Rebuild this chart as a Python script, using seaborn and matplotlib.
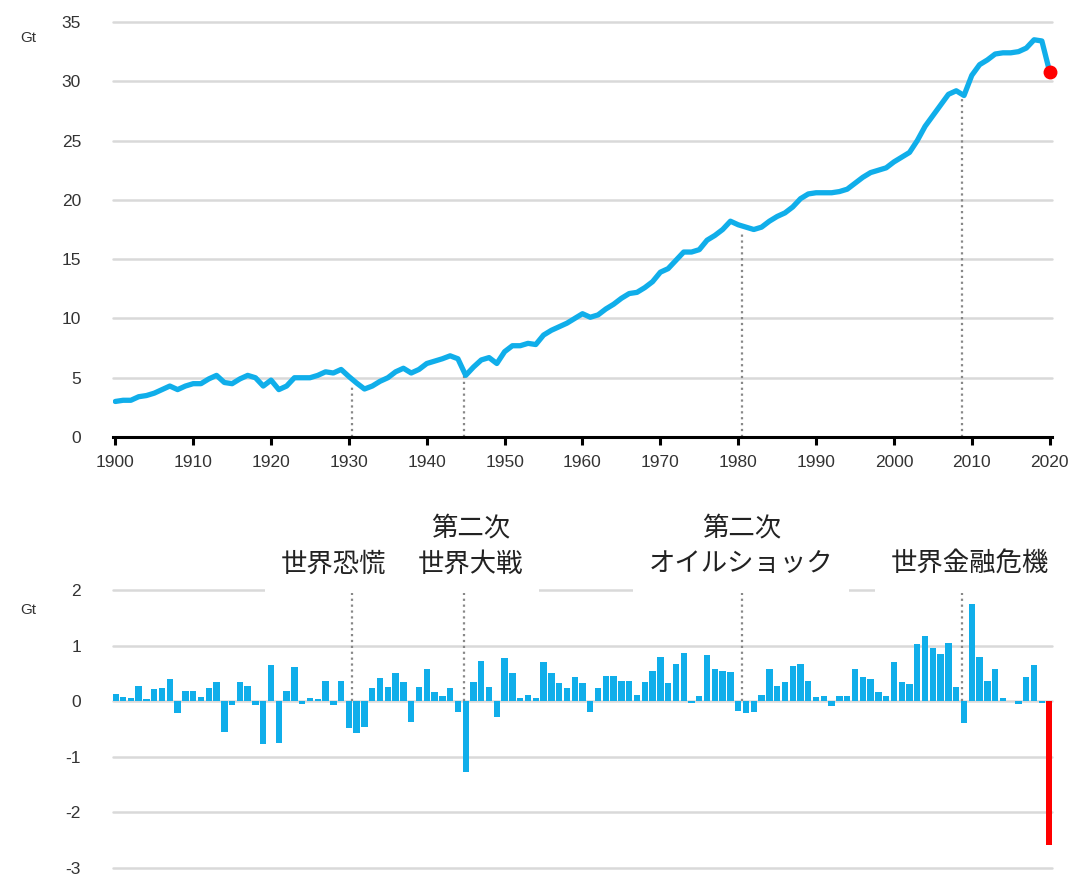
import numpy as np
import pandas as pd
import seaborn as sns
import matplotlib.pyplot as plt

years = np.arange(1900, 2021)

# 世界のCO2排出量 (Gt)
emissions = [
    3.0, 3.1, 3.1, 3.4, 3.5, 3.7, 4.0, 4.3, 4.0, 4.3,
    4.5, 4.5, 4.9, 5.2, 4.6, 4.5, 4.9, 5.2, 5.0, 4.3,
    4.8, 4.0, 4.3, 5.0, 5.0, 5.0, 5.2, 5.5, 5.4, 5.7,
    5.1, 4.55, 4.05, 4.3, 4.7, 5.0, 5.5, 5.8, 5.4, 5.7,
    6.2, 6.4, 6.6, 6.85, 6.6, 5.2, 5.9, 6.5, 6.7, 6.2,
    7.2, 7.7, 7.7, 7.9, 7.8, 8.6, 9.0, 9.3, 9.6, 10.0,
    10.4, 10.1, 10.3, 10.8, 11.2, 11.7, 12.1, 12.2, 12.6, 13.1,
    13.9, 14.2, 14.9, 15.6, 15.6, 15.8, 16.6, 17.0, 17.5, 18.2,
    17.9, 17.7, 17.5, 17.7, 18.2, 18.6, 18.9, 19.4, 20.1, 20.5,
    20.6, 20.6, 20.6, 20.7, 20.9, 21.4, 21.9, 22.3, 22.5, 22.7,
    23.2, 23.6, 24.0, 25.0, 26.2, 27.1, 28.0, 28.9, 29.2, 28.8,
    30.5, 31.4, 31.8, 32.3, 32.4, 32.4, 32.5, 32.8, 33.5, 33.4,
    30.8,
]

# 前年比の増減 (Gt)
changes = [
    0.13, 0.07, 0.05, 0.28, 0.04, 0.22, 0.24, 0.40, -0.21, 0.18,
    0.18, 0.07, 0.24, 0.34, -0.55, -0.06, 0.34, 0.28, -0.07, -0.77,
    0.65, -0.75, 0.18, 0.62, -0.05, 0.05, 0.04, 0.36, -0.06, 0.37,
    -0.48, -0.57, -0.47, 0.23, 0.41, 0.26, 0.51, 0.35, -0.37, 0.26,
    0.58, 0.17, 0.09, 0.23, -0.19, -1.28, 0.35, 0.72, 0.26, -0.29,
    0.78, 0.50, 0.05, 0.12, 0.05, 0.70, 0.51, 0.33, 0.23, 0.44,
    0.32, -0.20, 0.23, 0.45, 0.45, 0.36, 0.36, 0.11, 0.35, 0.54,
    0.80, 0.32, 0.67, 0.86, -0.04, 0.09, 0.83, 0.58, 0.54, 0.53,
    -0.18, -0.22, -0.20, 0.11, 0.58, 0.27, 0.35, 0.63, 0.67, 0.36,
    0.08, 0.10, -0.08, 0.10, 0.10, 0.58, 0.44, 0.40, 0.16, 0.10,
    0.70, 0.34, 0.31, 1.03, 1.17, 0.96, 0.85, 1.05, 0.25, -0.40,
    1.75, 0.80, 0.36, 0.58, 0.06, 0.01, -0.05, 0.43, 0.65, -0.03,
    -2.59,
]

event_x = [1930.45, 1944.75, 1980.5, 2008.7]
label_x = [1928.0, 1945.6, 1980.4, 2009.8]
labels = ['世界恐慌', '第二次\n世界大戦', '第二次\nオイルショック', '世界金融危機']

top_ticks = np.arange(0, 36, 5)
bottom_ticks = np.arange(-3, 3, 1)
xticks = np.arange(1900, 2021, 10)

blue = '#10AEEA'
red = '#FF0000'
grid = '#D9D9D9'
txt = '#333333'

df = pd.DataFrame({'year': years, 'emissions': emissions, 'change': changes})
df['is2020'] = df['year'] == 2020

sns.set_theme(style='white')
plt.rcParams['font.family'] = ['Liberation Sans', 'Noto Sans CJK JP', 'DejaVu Sans']
plt.rcParams['axes.unicode_minus'] = False

fig = plt.figure(figsize=(10.75, 8.76), dpi=100)
ax1 = fig.add_axes([0.1051, 0.5011, 0.8735, 0.4738])
ax2 = fig.add_axes([0.1051, 0.00913, 0.8735, 0.3174])

# 上段: 排出量の推移
for v in top_ticks[1:]:
    ax1.axhline(v, color=grid, lw=1.8, zorder=0, clip_on=False)
sns.lineplot(data=df, x='year', y='emissions', ax=ax1, color=blue, lw=3.8, zorder=3)
ax1.plot(years[-1], emissions[-1], 'o', color=red, ms=9, zorder=4, clip_on=False)
for ex in event_x:
    top = np.interp(ex, years, emissions) - 0.4
    ax1.plot([ex, ex], [0, top], ls=':', color='#888888', lw=1.6, zorder=2)

ax1.set_xlim(1899.7, 2020.3)
ax1.set_ylim(0, 35)
ax1.set_xticks(xticks)
ax1.set_yticks(top_ticks)
ax1.set_xlabel('')
ax1.set_ylabel('')
for s in ['top', 'right', 'left']:
    ax1.spines[s].set_visible(False)
ax1.spines['bottom'].set_color('black')
ax1.spines['bottom'].set_linewidth(2.2)
ax1.tick_params(axis='x', bottom=True, length=6, width=2.2, color='black',
                pad=7, labelsize=12.5, labelcolor=txt)
ax1.tick_params(axis='y', left=False, pad=17, labelsize=12.5, labelcolor=txt)

# 下段: 前年比の増減
for v in bottom_ticks:
    ax2.axhline(v, color=grid, lw=1.8, zorder=0, clip_on=False)
sns.barplot(data=df, x='year', y='change', hue='is2020', ax=ax2, native_scale=True,
            palette={False: blue, True: red}, width=0.82, dodge=False,
            legend=False, saturation=1, linewidth=0, zorder=3)
for ex in event_x:
    ax2.plot([ex, ex], [0, 2.05], ls=':', color='#888888', lw=1.6, zorder=2, clip_on=False)

for lx, lab in zip(label_x, labels):
    ax2.annotate(lab, xy=(lx, 2), xytext=(0, 9), textcoords='offset points',
                 ha='center', va='bottom', multialignment='center', fontsize=19,
                 color='#222222', linespacing=1.45,
                 family=['Noto Sans CJK JP', 'DejaVu Sans'],
                 bbox=dict(boxstyle='square,pad=0.6', fc='white', ec='none'),
                 annotation_clip=False, zorder=5)

ax2.set_xlim(1899.7, 2020.3)
ax2.set_ylim(-3, 2)
ax2.set_yticks(bottom_ticks)
ax2.set_xticks([])
ax2.set_xlabel('')
ax2.set_ylabel('')
for s in ['top', 'right', 'left', 'bottom']:
    ax2.spines[s].set_visible(False)
ax2.tick_params(axis='y', left=False, pad=17, labelsize=12.5, labelcolor=txt)

fig.text(0.026, 0.957, 'Gt', fontsize=11, color=txt, ha='center', va='center')
fig.text(0.026, 0.3037, 'Gt', fontsize=11, color=txt, ha='center', va='center')

fig.savefig('out.png', dpi=100, facecolor='white')
